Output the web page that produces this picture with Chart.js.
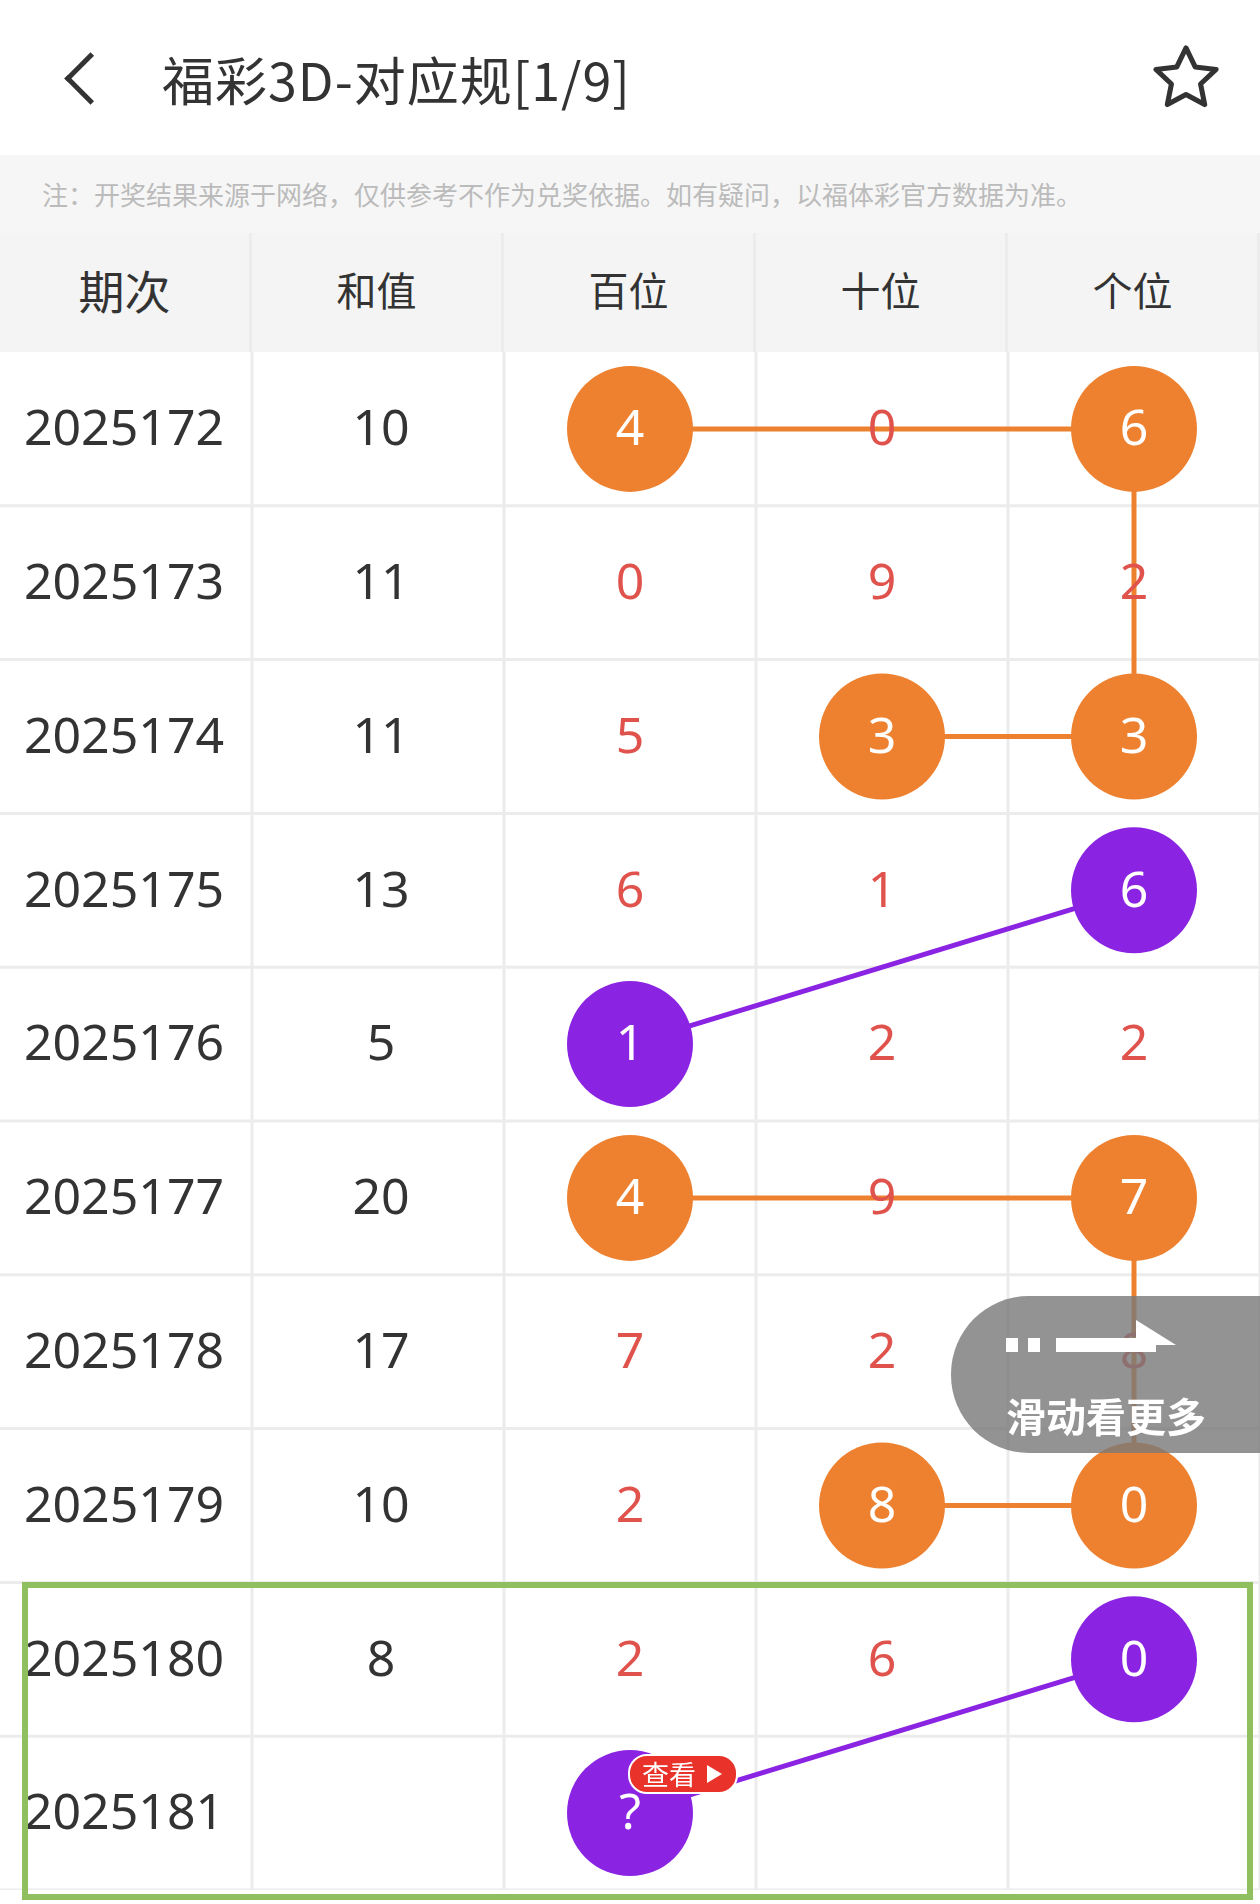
<!DOCTYPE html>
<html>
<head>
<meta charset="utf-8">
<script src="https://cdn.jsdelivr.net/npm/chart.js@4"></script>
<style>
  body { margin: 0; width: 1260px; height: 1904px; background: #fff; font-family: "Noto Sans CJK SC", "Noto Sans", sans-serif; position: relative; overflow: hidden; }
  .top { position: absolute; left: 0; top: 0; width: 1260px; height: 155px; background: #fff; }
  .back { position: absolute; left: 72px; top: 60px; width: 32px; height: 32px; border-left: 5px solid #333; border-bottom: 5px solid #333; transform: rotate(45deg); }
  .title { position: absolute; left: 162px; top: 44px; font-size: 52px; color: #333; line-height: 70px; letter-spacing: 1px; }
  .star { position: absolute; left: 1148px; top: 40px; }
  .note { position: absolute; left: 0; top: 155px; width: 1260px; height: 78px; background: #f6f6f6; color: #bbb; font-size: 26px; line-height: 78px; padding-left: 42px; box-sizing: border-box; }
  .head { position: absolute; left: 0; top: 233px; width: 1260px; height: 119px; background: #f4f4f4; display: flex; }
  .head div { width: 252px; text-align: center; line-height: 113px; font-size: 40px; color: #333; border-right: 3px solid #ececec; box-sizing: border-box; }
  .head div:first-child { font-size: 46px; }
  .wrap { position: absolute; left: 0; top: 352px; width: 1260px; height: 1538px; }
  .more { position: absolute; left: 951px; top: 1296px; width: 330px; height: 157px; background: rgba(120,120,120,0.8); border-radius: 78px 0 0 78px; color: #fff; font-size: 40px; font-weight: bold; }
  .more span { position: absolute; left: 55px; top: 90px; }
  .more svg { position: absolute; left: 55px; top: 14px; }
  .frame { position: absolute; left: 22px; top: 1582px; width: 1231px; height: 318px; border: 6px solid #8fbf5f; box-sizing: border-box; pointer-events: none; }
  .badge { position: absolute; left: 628px; top: 1754px; width: 110px; height: 40px; background: #e8322a; border-radius: 19px; border: 2px solid #fff; color: #fff; font-size: 27px; line-height: 36px; padding-left: 12px; box-sizing: border-box; }
  .badge:after { content: ""; position: absolute; right: 14px; top: 9px; border-left: 15px solid #fff; border-top: 9px solid transparent; border-bottom: 9px solid transparent; }
</style>
</head>
<body>
<div class="top">
  <div class="back"></div>
  <div class="title">福彩3D-对应规[1/9]</div>
  <svg class="star" width="76" height="76" viewBox="0 0 24 24"><path d="M12 2.5l2.9 6 6.6.8-4.9 4.6 1.3 6.5L12 17.2l-5.9 3.2 1.3-6.5L2.5 9.3l6.6-.8z" fill="none" stroke="#333" stroke-width="1.6" stroke-linejoin="round"/></svg>
</div>
<div class="note">注：开奖结果来源于网络，仅供参考不作为兑奖依据。如有疑问，以福体彩官方数据为准。</div>
<div class="head"><div>期次</div><div>和值</div><div>百位</div><div>十位</div><div>个位</div></div>
<div class="wrap"><canvas id="grafico"></canvas></div>
<div class="more">
  <svg width="200" height="60" viewBox="0 0 200 60"><rect x="0" y="28" width="12" height="14" fill="#fff"/><rect x="22" y="28" width="12" height="14" fill="#fff"/><path d="M50 28h100v14H50z M130 10l40 25-40 0z" fill="#fff"/></svg>
  <span>滑动看更多</span>
</div>
<div class="frame"></div>
<div class="badge">查看</div>
<script>
// dados
const periodos = ['2025172','2025173','2025174','2025175','2025176','2025177','2025178','2025179','2025180','2025181'];
const somas = ['10','11','11','13','5','20','17','10','8',''];
const baiwei = [4,0,5,6,1,4,7,2,2,'?'];
const shiwei = [0,9,3,1,2,9,2,8,6,''];
const gewei = [6,2,3,6,2,7,8,0,0,''];

// circulos ligados [coluna, linha]
const laranja1 = [[2,0],[4,0],[4,2],[3,2]];
const roxo1 = [[4,3],[2,4]];
const laranja2 = [[2,5],[4,5],[4,7],[3,7]];
const roxo2 = [[4,8],[2,9]];

const LARANJA = '#ee8130';
const ROXO = '#8a24e2';
const VERMELHO = '#e0524c';

function serie(pontos, cor) {
    return {
        data: pontos.map(p => ({x: p[0], y: p[1]})),
        showLine: true,
        borderColor: cor,
        borderWidth: 5,
        pointRadius: 63,
        pointBackgroundColor: cor,
        pointBorderWidth: 0,
        clip: false
    };
}

const circulos = [laranja1, roxo1, laranja2, roxo2];
function temCirculo(col, lin) {
    return circulos.some(s => s.some(p => p[0] === col && p[1] === lin));
}

const tabela = {
    id: 'tabela',
    beforeDatasetsDraw(chart) {
        const ctx = chart.ctx, x = chart.scales.x, y = chart.scales.y;
        ctx.save();
        ctx.strokeStyle = '#ececec';
        ctx.lineWidth = 3;
        for (let c = 1; c <= 5; c++) {
            const px = x.getPixelForValue(c - 0.5);
            ctx.beginPath(); ctx.moveTo(px, 0); ctx.lineTo(px, chart.height); ctx.stroke();
        }
        for (let r = 1; r <= 10; r++) {
            const py = y.getPixelForValue(r - 0.5);
            ctx.beginPath(); ctx.moveTo(0, py); ctx.lineTo(chart.width, py); ctx.stroke();
        }
        ctx.restore();
    },
    afterDatasetsDraw(chart) {
        const ctx = chart.ctx, x = chart.scales.x, y = chart.scales.y;
        ctx.save();
        ctx.textAlign = 'center';
        ctx.textBaseline = 'middle';
        ctx.font = '50px "Noto Sans", sans-serif';
        for (let r = 0; r < periodos.length; r++) {
            const py = y.getPixelForValue(r) + 2;
            ctx.fillStyle = '#333';
            ctx.fillText(periodos[r], x.getPixelForValue(0) - 2, py);
            ctx.fillText(somas[r], x.getPixelForValue(1) + 3, py);
            [baiwei, shiwei, gewei].forEach((col, i) => {
                ctx.fillStyle = temCirculo(i + 2, r) ? '#fff' : VERMELHO;
                ctx.fillText(String(col[r]), x.getPixelForValue(i + 2), py);
            });
        }
        ctx.restore();
    }
};

new Chart(document.getElementById('grafico'), {
    type: 'scatter',
    data: {
        datasets: [
            serie(laranja1, LARANJA),
            serie(roxo1, ROXO),
            serie(laranja2, LARANJA),
            serie(roxo2, ROXO)
        ]
    },
    options: {
        responsive: true,
        maintainAspectRatio: false,
        animation: false,
        layout: { padding: 0, autoPadding: false },
        plugins: { legend: { display: false }, tooltip: { enabled: false } },
        scales: {
            x: { type: 'linear', min: -0.5, max: 4.5, display: false },
            y: { type: 'linear', min: -0.5, max: 9.5, reverse: true, display: false }
        }
    },
    plugins: [tabela]
});
</script>
</body>
</html>
